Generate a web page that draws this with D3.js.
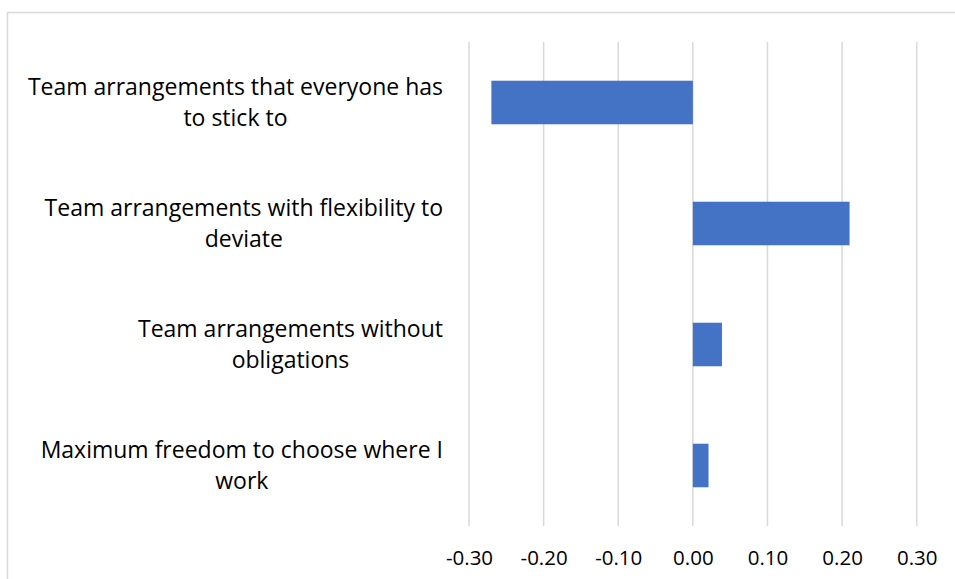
<!DOCTYPE html>
<html>
<head>
<meta charset="utf-8">
<script src="https://cdn.jsdelivr.net/npm/d3@7"></script>
<style>
  html, body { margin: 0; padding: 0; background: #fff; }
  svg { display: block; }
</style>
</head>
<body>
<svg id="chart" width="955" height="579"></svg>
<script>
// Preference scores per working arrangement
const categories = [
  ["Team arrangements that everyone has", "to stick to"],
  ["Team arrangements with flexibility to", "deviate"],
  ["Team arrangements without", "obligations"],
  ["Maximum freedom to choose where I", "work"]
];
const values = [-0.27, 0.21, 0.039, 0.021];
const tickValues = [-0.3, -0.2, -0.1, 0, 0.1, 0.2, 0.3];

const svg = d3.select("#chart");
const fontFamily = "'Open Sans', sans-serif";

// outer chart frame
svg.append("rect")
  .attr("x", 7.5).attr("y", 12.5)
  .attr("width", 1000).attr("height", 1000)
  .attr("fill", "none")
  .attr("stroke", "#d9d9d9")
  .attr("stroke-width", 1.5);

const plot = { left: 469, right: 916.7, top: 42, bottom: 526 };

const x = d3.scaleLinear()
  .domain([-0.3, 0.3])
  .range([plot.left, plot.right]);

const y = d3.scaleBand()
  .domain(d3.range(categories.length))
  .range([plot.top, plot.bottom])
  .paddingInner(0.64)
  .paddingOuter(0.32);

// vertical gridlines
svg.append("g")
  .selectAll("line")
  .data(tickValues)
  .join("line")
  .attr("x1", d => x(d)).attr("x2", d => x(d))
  .attr("y1", plot.top).attr("y2", plot.bottom)
  .attr("stroke", "#d9d9d9")
  .attr("stroke-width", 1.5);

// bars
svg.append("g")
  .selectAll("rect")
  .data(values)
  .join("rect")
  .attr("x", d => x(Math.min(0, d)))
  .attr("width", d => Math.abs(x(d) - x(0)))
  .attr("y", (d, i) => y(i))
  .attr("height", y.bandwidth())
  .attr("fill", "#4472c4");

// x axis tick labels (plain hyphen for negatives)
const fmt = d3.format(".2f");
const xAxis = d3.axisBottom(x)
  .tickValues(tickValues)
  .tickFormat(d => fmt(d).replace("\u2212", "-"))
  .tickSize(0)
  .tickPadding(0);

const gx = svg.append("g")
  .attr("transform", `translate(0,${plot.bottom})`)
  .call(xAxis);
gx.select(".domain").remove();
gx.selectAll("text")
  .attr("y", 39)
  .attr("dy", null)
  .attr("font-family", fontFamily)
  .attr("font-size", 20.5)
  .attr("fill", "#000");

// category labels: each block is right-aligned to the label column edge,
// with its lines centred within the block
const labelRight = 443;
const lineGap = 30.5;
const labels = svg.append("g")
  .attr("font-family", fontFamily)
  .attr("font-size", 23)
  .attr("fill", "#000")
  .attr("text-anchor", "middle");

categories.forEach((lines, i) => {
  const cy = y(i) + y.bandwidth() / 2;
  const t = labels.append("text");
  const spans = lines.map((line, j) =>
    t.append("tspan")
      .attr("y", cy + (j - (lines.length - 1) / 2) * lineGap + 8)
      .text(line)
  );
  const maxW = d3.max(spans, s => s.node().getComputedTextLength());
  spans.forEach(s => s.attr("x", labelRight - maxW / 2));
});
</script>
</body>
</html>
